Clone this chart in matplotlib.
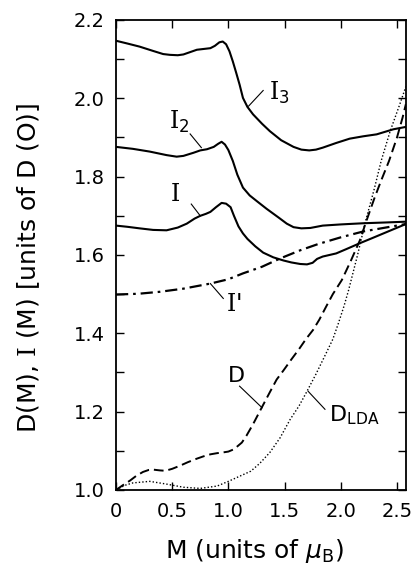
import matplotlib
matplotlib.use("Agg")
import matplotlib.pyplot as plt

plt.rcParams['font.family'] = ['DejaVu Sans']
plt.rcParams['mathtext.fontset'] = 'custom'
plt.rcParams['mathtext.rm'] = 'DejaVu Serif'
plt.rcParams['mathtext.sf'] = 'DejaVu Sans'
plt.rcParams['mathtext.it'] = 'DejaVu Sans:italic'

# ---- data ----
i3_x = [0, 0.1, 0.21, 0.33, 0.42, 0.48, 0.55, 0.60, 0.66, 0.72, 0.78, 0.84, 0.88, 0.92,
        0.95, 0.98, 1.01, 1.04, 1.07, 1.10, 1.13, 1.17, 1.22, 1.30, 1.37, 1.47, 1.58,
        1.65, 1.72, 1.78, 1.84, 1.96, 2.08, 2.2, 2.32, 2.47, 2.58]
i3_y = [2.147, 2.140, 2.132, 2.121, 2.113, 2.111, 2.110, 2.112, 2.118, 2.124, 2.126,
        2.128, 2.134, 2.143, 2.145, 2.138, 2.120, 2.094, 2.065, 2.035, 2.001, 1.978,
        1.959, 1.935, 1.916, 1.893, 1.876, 1.869, 1.867, 1.869, 1.874, 1.886, 1.897,
        1.903, 1.908, 1.921, 1.927]

i2_x = [0, 0.15, 0.30, 0.45, 0.54, 0.6, 0.69, 0.75, 0.81, 0.87, 0.91, 0.94, 0.97, 1.0,
        1.04, 1.08, 1.13, 1.19, 1.26, 1.34, 1.45, 1.52, 1.58, 1.65, 1.73, 1.84, 2.0,
        2.2, 2.4, 2.58]
i2_y = [1.876, 1.871, 1.864, 1.855, 1.851, 1.853, 1.861, 1.867, 1.870, 1.876, 1.884,
        1.889, 1.882, 1.868, 1.840, 1.805, 1.772, 1.752, 1.736, 1.718, 1.695, 1.680,
        1.671, 1.668, 1.669, 1.675, 1.678, 1.681, 1.683, 1.685]

i1_x = [0, 0.1, 0.21, 0.33, 0.45, 0.55, 0.63, 0.7, 0.75, 0.8, 0.84, 0.89, 0.94, 0.98,
        1.02, 1.05, 1.09, 1.13, 1.17, 1.24, 1.31, 1.40, 1.49, 1.56, 1.64, 1.70, 1.75,
        1.79, 1.84, 1.90, 1.96, 2.05, 2.17, 2.28, 2.38, 2.48, 2.58]
i1_y = [1.675, 1.672, 1.668, 1.664, 1.663, 1.670, 1.680, 1.693, 1.700, 1.705, 1.710,
        1.722, 1.733, 1.731, 1.722, 1.700, 1.673, 1.655, 1.641, 1.622, 1.606, 1.594,
        1.586, 1.581, 1.577, 1.576, 1.580, 1.590, 1.596, 1.600, 1.604, 1.615, 1.630,
        1.643, 1.655, 1.667, 1.679]

ip_x = [0, 0.2, 0.39, 0.6, 0.84, 1.0, 1.13, 1.3, 1.46, 1.64, 1.8, 2.0, 2.2, 2.4, 2.58]
ip_y = [1.499, 1.501, 1.506, 1.514, 1.527, 1.538, 1.553, 1.570, 1.591, 1.612, 1.628,
        1.645, 1.660, 1.670, 1.679]

d_x = [0, 0.06, 0.125, 0.18, 0.24, 0.29, 0.33, 0.39, 0.44, 0.5, 0.57, 0.64, 0.72, 0.78,
       0.84, 0.9, 0.955, 1.0, 1.05, 1.12, 1.16, 1.22, 1.30, 1.37, 1.43, 1.49, 1.56, 1.63,
       1.69, 1.755, 1.81, 1.87, 1.93, 2.01, 2.09, 2.17, 2.23, 2.30, 2.36, 2.43, 2.50,
       2.55, 2.58]
d_y = [1.0, 1.012, 1.024, 1.036, 1.046, 1.051, 1.052, 1.050, 1.049, 1.054, 1.062, 1.071,
       1.080, 1.086, 1.091, 1.094, 1.096, 1.098, 1.104, 1.121, 1.138, 1.168, 1.212,
       1.250, 1.282, 1.305, 1.333, 1.360, 1.385, 1.409, 1.435, 1.468, 1.500, 1.536,
       1.585, 1.637, 1.688, 1.745, 1.790, 1.840, 1.899, 1.950, 1.985]

dlda_x = [0, 0.08, 0.15, 0.3, 0.45, 0.6, 0.75, 0.9, 1.0, 1.1, 1.2, 1.28, 1.37, 1.46,
          1.55, 1.63, 1.7, 1.78, 1.87, 1.93, 1.98, 2.03, 2.07, 2.15, 2.22, 2.30, 2.36,
          2.44, 2.52, 2.58]
dlda_y = [1.0, 1.012, 1.018, 1.022, 1.015, 1.007, 1.004, 1.010, 1.022, 1.035, 1.048,
          1.068, 1.096, 1.133, 1.180, 1.215, 1.252, 1.296, 1.349, 1.385, 1.426, 1.470,
          1.510, 1.600, 1.685, 1.770, 1.840, 1.916, 1.980, 2.030]

x_ticks = [0, 0.5, 1.0, 1.5, 2.0, 2.5]
x_ticklabels = ['0', '0.5', '1.0', '1.5', '2.0', '2.5']
y_ticks = [1.0, 1.2, 1.4, 1.6, 1.8, 2.0, 2.2]
y_ticklabels = ['1.0', '1.2', '1.4', '1.6', '1.8', '2.0', '2.2']
y_minor = [1.1, 1.3, 1.5, 1.7, 1.9, 2.1]

fig = plt.figure(figsize=(4.15, 5.71), dpi=100)
ax = fig.add_axes([0.2795, 0.1419, 0.6985, 0.8231])

ax.plot(i3_x, i3_y, color='black', lw=1.5, solid_joinstyle='round')
ax.plot(i2_x, i2_y, color='black', lw=1.5, solid_joinstyle='round')
ax.plot(i1_x, i1_y, color='black', lw=1.5, solid_joinstyle='round')
ax.plot(ip_x, ip_y, color='black', lw=1.6, linestyle=(0, (5.5, 2.2, 1.2, 2.2)))
ax.plot(d_x, d_y, color='black', lw=1.4, linestyle=(0, (5, 2.5)))
ax.plot(dlda_x, dlda_y, color='black', lw=1.0, linestyle=(0, (1, 1.5)))

ax.set_xlim(0, 2.58)
ax.set_ylim(1.0, 2.2)
ax.set_xticks(x_ticks)
ax.set_xticklabels(x_ticklabels)
ax.set_yticks(y_ticks)
ax.set_yticklabels(y_ticklabels)
ax.set_yticks(y_minor, minor=True)
ax.tick_params(which='both', direction='in', top=True, right=True,
               length=6, width=1.0, labelsize=14)
ax.tick_params(axis='y', pad=8)
ax.tick_params(axis='x', pad=9)
for s in ax.spines.values():
    s.set_linewidth(1.3)

ax.set_xlabel(r'M (units of $\mu_{\mathsf{B}}$)', fontsize=18)
ax.xaxis.set_label_coords(0.478, -0.100)
ax.set_ylabel(r'D(M), $\mathrm{I}$ (M) [units of D (O)]', fontsize=18, va='center')
ax.yaxis.set_label_coords(-0.30, 0.472)

# curve labels with pointer lines
lbl = dict(fontsize=17, color='black', ha='center', va='center')
ax.text(1.45, 2.015, r'$\mathrm{I}_{\mathsf{3}}$', **lbl)
ax.plot([1.31, 1.18], [2.02, 1.98], color='black', lw=0.8)
ax.text(0.56, 1.94, r'$\mathrm{I}_{\mathsf{2}}$', **lbl)
ax.plot([0.66, 0.76], [1.909, 1.874], color='black', lw=0.8)
ax.text(0.525, 1.756, r'$\mathrm{I}$', **lbl)
ax.plot([0.67, 0.75], [1.730, 1.700], color='black', lw=0.8)
ax.text(1.05, 1.474, r"$\mathrm{I}$'", **lbl)
ax.plot([0.955, 0.84], [1.489, 1.527], color='black', lw=0.8)
ax.text(1.07, 1.29, 'D', fontsize=16, color='black', ha='center', va='center')
ax.plot([1.10, 1.30], [1.265, 1.210], color='black', lw=0.8)
ax.text(2.12, 1.19, r'$\mathsf{D}_{\mathsf{LDA}}$', fontsize=16, color='black',
        ha='center', va='center')
ax.plot([1.86, 1.71], [1.206, 1.252], color='black', lw=0.8)

fig.savefig('out.png', dpi=100)
